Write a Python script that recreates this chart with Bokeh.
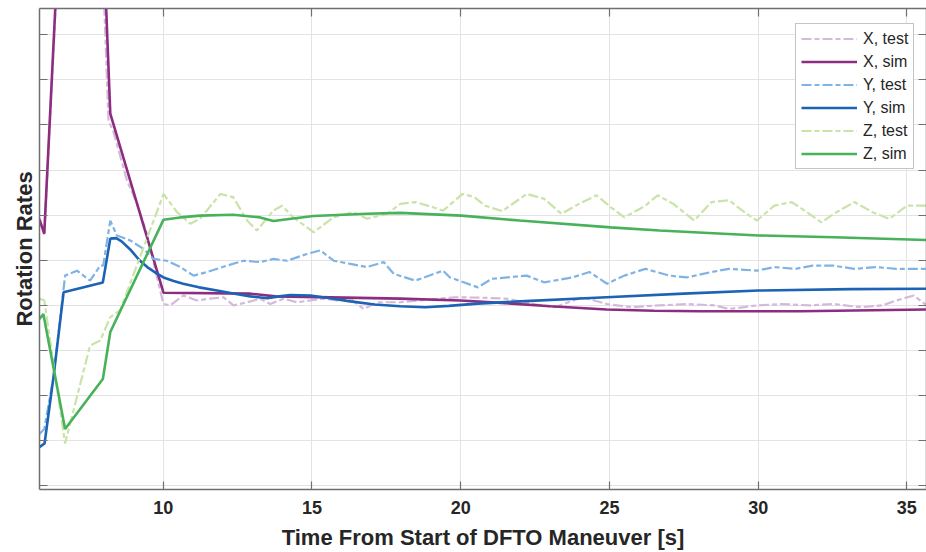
from bokeh.plotting import figure
from bokeh.models import Range1d, LinearAxis, FixedTicker, Legend, LegendItem
from bokeh.embed import file_html
from bokeh.resources import INLINE

# ---- data: time [s] and rotation rate (arbitrary units) ----
x_sim_t = [5.84, 6.00, 7.32, 8.22, 10.01, 12.93, 13.77, 17.97, 19.99, 21.5, 23.02, 24.90, 26.5,
           28.06, 31.43, 35.67]
x_sim_v = [5.90, 5.59, 23.4, 8.25, 4.28, 4.26, 4.20, 4.15, 4.11, 4.05, 3.98, 3.91, 3.88,
           3.87, 3.87, 3.91]

x_test_t = [5.84, 6.00, 7.32, 8.16, 8.33, 8.78, 9.12, 9.45, 9.84, 10.01, 10.24, 10.68, 11.13, 11.58,
            12.03, 12.36, 12.82, 13.26, 13.60, 14.05, 14.50, 14.95, 15.39, 15.84, 16.29, 16.74, 17.19,
            17.97, 19.82, 20.70, 21.52, 22.46, 23.16, 24.10, 24.92, 25.74, 26.68, 27.61, 28.55, 29.02,
            29.96, 30.78, 31.72, 32.54, 33.47, 34.18, 34.65, 35.23, 35.67]
x_test_v = [5.95, 5.55, 23.0, 8.10, 7.84, 6.77, 6.25, 5.59, 4.48, 4.03, 4.00, 4.22, 4.11, 4.15,
            4.18, 4.00, 4.07, 4.15, 4.03, 4.15, 4.07, 4.11, 4.15, 4.11, 4.15, 3.92, 4.07,
            4.07, 4.18, 4.17, 4.15, 4.03, 3.96, 4.18, 4.03, 3.96, 4.00, 4.03, 4.00, 3.92,
            4.00, 4.03, 4.00, 4.03, 3.96, 4.00, 4.11, 4.22, 4.00]

y_sim_t = [5.84, 6.01, 6.31, 6.65, 7.97, 8.22, 8.42, 8.60, 8.89, 9.20, 9.50, 9.80, 10.01, 10.35,
           10.67, 11.20, 11.81, 12.40, 12.93, 13.49, 13.90, 14.27, 14.95, 15.60, 16.29, 17.10,
           17.97, 18.81, 19.60, 20.56, 22.00, 24.90, 27.50, 30.02, 33.11, 35.67]
y_sim_v = [0.86, 0.94, 2.41, 4.29, 4.51, 5.48, 5.49, 5.42, 5.24, 5.00, 4.83, 4.70, 4.62, 4.54,
           4.48, 4.40, 4.33, 4.26, 4.20, 4.16, 4.20, 4.23, 4.22, 4.16, 4.09, 4.02,
           3.98, 3.96, 3.99, 4.04, 4.09, 4.18, 4.26, 4.33, 4.36, 4.37]

y_test_t = [5.84, 6.00, 6.31, 6.70, 7.10, 7.54, 7.88, 7.98, 8.22, 8.44, 8.89, 9.34, 9.67, 10.12,
            10.57, 11.02, 11.47, 12.14, 12.70, 13.26, 13.71, 14.16, 14.83, 15.28, 15.73, 16.29,
            16.85, 17.41, 17.75, 18.47, 19.41, 19.64, 20.58, 21.05, 22.22, 22.81, 23.75, 24.33,
            24.92, 25.50, 26.21, 27.02, 27.61, 28.43, 29.02, 29.96, 30.54, 31.25, 31.83, 32.54,
            33.24, 33.95, 34.65, 35.67]
y_test_v = [1.15, 1.26, 2.41, 4.66, 4.77, 4.55, 4.88, 4.88, 5.88, 5.55, 5.44, 5.25, 5.03, 4.99,
            4.85, 4.66, 4.74, 4.88, 4.99, 4.96, 5.03, 4.99, 5.14, 5.22, 4.99, 4.92,
            4.85, 4.96, 4.70, 4.55, 4.77, 4.62, 4.40, 4.59, 4.66, 4.51, 4.62, 4.74,
            4.48, 4.66, 4.81, 4.66, 4.62, 4.74, 4.81, 4.77, 4.85, 4.81, 4.88, 4.88,
            4.81, 4.85, 4.81, 4.81]

z_sim_t = [5.84, 5.97, 6.70, 7.97, 8.22, 10.01, 10.57, 11.24, 12.35, 13.26, 13.70, 14.3, 15.05,
           16.85, 17.97, 20.02, 21.98, 25.04, 26.68, 28.5, 30.02, 32.54, 35.67]
z_sim_v = [3.70, 3.81, 1.26, 2.37, 3.41, 5.90, 5.95, 5.99, 6.01, 5.95, 5.87, 5.92, 5.98,
           6.03, 6.05, 5.99, 5.88, 5.73, 5.66, 5.60, 5.55, 5.51, 5.45]

z_test_t = [5.84, 6.00, 6.70, 7.54, 7.88, 8.22, 8.55, 10.01, 10.46, 10.91, 11.24, 11.92, 12.35,
            12.82, 13.15, 13.70, 13.99, 14.37, 15.06, 15.72, 16.39, 16.85, 17.53, 17.97, 18.47,
            19.05, 19.41, 20.06, 20.46, 20.82, 21.40, 22.22, 22.81, 23.39, 23.98, 24.57, 25.04,
            25.50, 26.21, 26.62, 27.15, 27.85, 28.43, 29.02, 29.61, 29.96, 30.54, 31.13, 31.72,
            32.13, 32.54, 33.24, 33.83, 34.41, 35.00, 35.67]
z_test_v = [4.15, 4.11, 0.94, 3.11, 3.22, 3.74, 3.89, 6.47, 6.07, 5.81, 5.92, 6.47, 6.40,
            5.88, 5.66, 6.10, 6.21, 5.95, 5.62, 5.95, 6.07, 5.92, 6.03, 6.25, 6.29,
            6.18, 6.10, 6.47, 6.40, 6.21, 6.09, 6.47, 6.36, 6.03, 6.25, 6.44, 6.18,
            5.95, 6.21, 6.44, 6.25, 5.88, 6.29, 6.33, 6.03, 5.88, 6.21, 6.29, 6.03,
            5.84, 6.03, 6.29, 6.07, 5.92, 6.21, 6.21]

x_ticks = [10, 15, 20, 25, 30, 35]
y_ticks = list(range(0, 11))

AXIS_GREY = "#6f6f6f"
TEXT_DARK = "#262626"
FONT = "Liberation Sans"
TEST_DASH = "10 3 5 3"

p = figure(width=926, height=552, output_backend="svg", toolbar_location=None,
           x_range=Range1d(5.84, 35.66), y_range=Range1d(-0.08, 10.58),
           min_border_left=39, min_border_right=0, min_border_top=8, min_border_bottom=63,
           background_fill_color="white", border_fill_color="white")
p.outline_line_color = None

# bottom axis with labels
xa = p.xaxis[0]
xa.ticker = FixedTicker(ticks=x_ticks)
xa.axis_label = "Time From Start of DFTO Maneuver [s]"
xa.axis_label_text_font = FONT
xa.axis_label_text_font_size = "22px"
xa.axis_label_text_font_style = "bold"
xa.axis_label_text_color = TEXT_DARK
xa.axis_label_standoff = 8
xa.major_label_text_font = FONT
xa.major_label_text_font_size = "18px"
xa.major_label_text_font_style = "bold"
xa.major_label_text_color = TEXT_DARK
xa.major_label_standoff = 11

# left axis: ticks only, plus the title
ya = p.yaxis[0]
ya.ticker = FixedTicker(ticks=y_ticks)
ya.axis_label = "Rotation Rates"
ya.axis_label_text_font = FONT
ya.axis_label_text_font_size = "22px"
ya.axis_label_text_font_style = "bold"
ya.axis_label_text_color = TEXT_DARK
ya.axis_label_standoff = 3


# box axes on top and right
top_ax = LinearAxis(ticker=FixedTicker(ticks=x_ticks))
right_ax = LinearAxis(ticker=FixedTicker(ticks=y_ticks))
p.add_layout(top_ax, "above")
p.add_layout(right_ax, "right")

# tick marks without numbers on the left, top and right sides
for ax in (ya, top_ax, right_ax):
    ax.major_label_text_font_size = "1px"
    ax.major_label_text_color = None
    ax.major_label_standoff = 0

for ax in (xa, ya, top_ax, right_ax):
    ax.major_tick_in = 8
    ax.major_tick_out = 0
    ax.minor_tick_line_color = None
    ax.axis_line_color = AXIS_GREY
    ax.axis_line_width = 1.5
    ax.major_tick_line_color = AXIS_GREY
    ax.major_tick_line_width = 1.2

p.xgrid.ticker = FixedTicker(ticks=x_ticks)
p.ygrid.ticker = FixedTicker(ticks=y_ticks)
for g in (p.xgrid, p.ygrid):
    g.grid_line_color = "#e3e3e3"
    g.grid_line_width = 1

r_xt = p.line(x_test_t, x_test_v, line_color="#d5b9da", line_width=2.2, line_dash=TEST_DASH)
r_xs = p.line(x_sim_t, x_sim_v, line_color="#8c2d80", line_width=2.6)
r_yt = p.line(y_test_t, y_test_v, line_color="#7fb3e5", line_width=2.2, line_dash=TEST_DASH)
r_ys = p.line(y_sim_t, y_sim_v, line_color="#1d63b5", line_width=2.6)
r_zt = p.line(z_test_t, z_test_v, line_color="#c9e3a9", line_width=2.2, line_dash=TEST_DASH)
r_zs = p.line(z_sim_t, z_sim_v, line_color="#47b259", line_width=2.6)

legend = Legend(items=[
    LegendItem(label="X, test", renderers=[r_xt]),
    LegendItem(label="X, sim", renderers=[r_xs]),
    LegendItem(label="Y, test", renderers=[r_yt]),
    LegendItem(label="Y, sim", renderers=[r_ys]),
    LegendItem(label="Z, test", renderers=[r_zt]),
    LegendItem(label="Z, sim", renderers=[r_zs]),
], location=(756, 320))
legend.label_text_font = FONT
legend.label_text_font_size = "16px"
legend.label_text_color = TEXT_DARK
legend.glyph_width = 56
legend.glyph_height = 19
legend.label_height = 19
legend.label_standoff = 6
legend.spacing = 4
legend.padding = 5
legend.margin = 0
legend.border_line_color = "#8a8a8a"
legend.border_line_width = 1
legend.background_fill_color = "white"
legend.background_fill_alpha = 1.0
p.add_layout(legend, "center")

open("out.html", "w").write(file_html(p, INLINE))
